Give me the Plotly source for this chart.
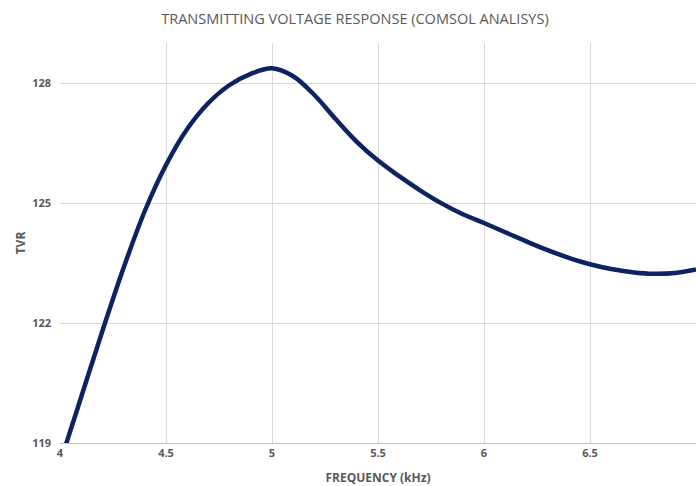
import plotly.graph_objects as go

freq = [4.0, 4.1, 4.2, 4.3, 4.4, 4.5, 4.6, 4.7, 4.8, 4.9,
        5.0, 5.1, 5.2, 5.3, 5.4, 5.5, 5.6, 5.7, 5.8, 5.9,
        6.0, 6.1, 6.2, 6.3, 6.4, 6.5, 6.6, 6.7, 6.8, 6.9, 7.0]
tvr = [118.5, 120.15, 121.8, 123.38, 124.8, 125.95, 126.85, 127.5, 127.95, 128.23,
       128.37, 128.17, 127.7, 127.1, 126.53, 126.06, 125.67, 125.31, 124.99, 124.72,
       124.5, 124.27, 124.04, 123.82, 123.63, 123.47, 123.35, 123.27, 123.23, 123.25, 123.34]

x_ticks = [4, 4.5, 5, 5.5, 6, 6.5]
x_tick_text = ["4", "4.5", "5", "5.5", "6", "6.5"]
y_ticks = [119, 122, 125, 128]

fig = go.Figure()
fig.add_trace(go.Scatter(
    x=freq, y=tvr, mode="lines",
    line=dict(color="#0b2461", width=4.5, shape="spline", smoothing=1.0),
    showlegend=False, hoverinfo="x+y",
))

grey = "#595959"
fig.update_layout(
    width=696, height=486,
    margin=dict(l=60, r=0, t=43, b=43),
    paper_bgcolor="white", plot_bgcolor="white",
    title=dict(text="TRANSMITTING VOLTAGE RESPONSE (COMSOL ANALISYS)",
               x=0.51, xanchor="center", y=0.962, yanchor="middle",
               font=dict(family="Open Sans", size=14.5, color=grey)),
    font=dict(family="Open Sans", color=grey),
    xaxis=dict(range=[4, 7], tickvals=x_ticks, ticktext=x_tick_text,
               showgrid=True, gridcolor="#d9d9d9", gridwidth=1,
               showline=True, linecolor="#bfbfbf", linewidth=1,
               zeroline=False, ticks="",
               tickfont=dict(family="Open Sans", size=11, color=grey, weight="bold"),
               title=dict(text="FREQUENCY (kHz)", standoff=14,
                          font=dict(family="Open Sans", size=12, color=grey, weight="bold"))),
    yaxis=dict(range=[119, 129], tickvals=y_ticks,
               showgrid=True, gridcolor="#d9d9d9", gridwidth=1,
               showline=False, zeroline=False, ticks="",
               tickfont=dict(family="Open Sans", size=11, color=grey, weight="bold"),
               ticklabelstandoff=8,
               title=dict(text="TVR", standoff=3,
                          font=dict(family="Open Sans", size=12, color=grey, weight="bold"))),
)

fig.write_html("out.html", config={"displayModeBar": False},
               post_script="document.body.style.margin='0';document.body.style.overflow='hidden';")
